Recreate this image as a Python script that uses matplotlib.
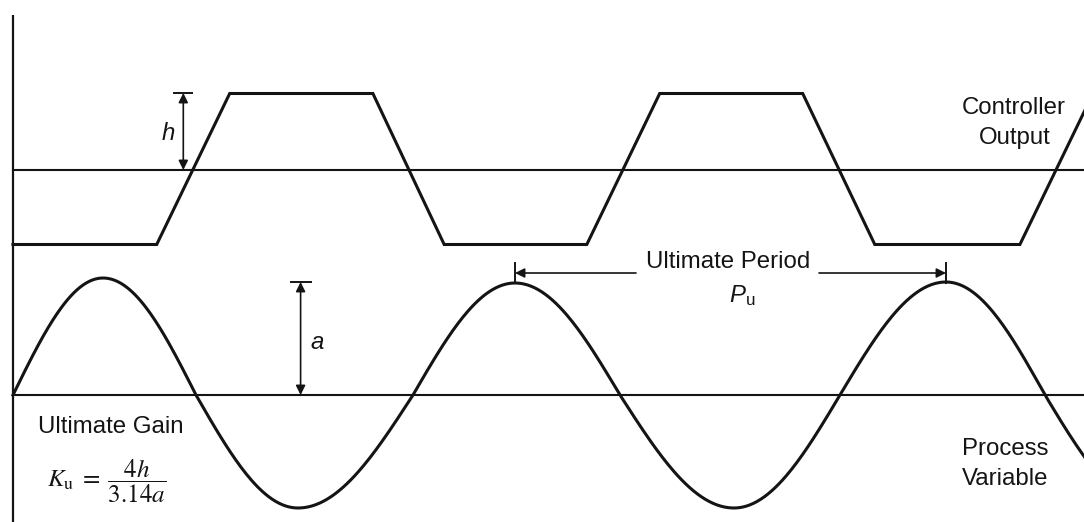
import numpy as np
import matplotlib
matplotlib.use("Agg")
import matplotlib.pyplot as plt

plt.rcParams['mathtext.fontset'] = 'custom'
plt.rcParams['mathtext.rm'] = 'Liberation Sans'
plt.rcParams['mathtext.it'] = 'Liberation Sans:italic'
plt.rcParams['font.family'] = ['Liberation Sans', 'DejaVu Sans']

# ---- data (x: time in px, y: px from top) ----
axis_x = 13
co_baseline = 170
pv_baseline = 395

# Controller output (trapezoid) vertices
co_x = [13, 156.7, 229.7, 372.9, 444.2, 586.8, 659.7, 802.7, 874.8, 1019.9, 1093]
co_y = [244.5, 244.5, 93.5, 93.5, 244.5, 244.5, 93.5, 93.5, 244.5, 244.5, 93.5]

# Process variable key points (zero crossings and extrema)
pv_x = [13, 103, 196, 298, 413, 515, 620, 734, 840, 946, 1045, 1152]
pv_y = [395, 278, 395, 508, 395, 283, 395, 508, 395, 282, 395, 508]

# annotation readings
h_x, h_top = 183.3, 93
a_x, a_top = 300.6, 282
period_start, period_end, period_y = 515, 946, 273

INK = '#141414'
FS = 17.3

fig = plt.figure(figsize=(10.84, 5.22), dpi=100)
ax = fig.add_axes([0, 0, 1, 1])
ax.set_xlim(0, 1084)
ax.set_ylim(522, 0)
ax.axis('off')

# vertical axis and the two reference lines
ax.plot([axis_x, axis_x], [15, 522], color=INK, lw=1.6, solid_capstyle='butt')
ax.plot([axis_x, 1084], [co_baseline, co_baseline], color=INK, lw=1.5)
ax.plot([axis_x, 1084], [pv_baseline, pv_baseline], color=INK, lw=1.5)

# controller output
ax.plot(co_x, co_y, color=INK, lw=2.2, solid_joinstyle='miter')

# process variable: smooth quarter-wave segments through key points
xs, ys = [], []
for i in range(len(pv_x) - 1):
    x0, x1 = pv_x[i], pv_x[i + 1]
    y0, y1 = pv_y[i], pv_y[i + 1]
    s = np.linspace(0, 1, 60)
    if abs(y0 - pv_baseline) < 1e-6:      # from zero crossing to extremum
        seg = y0 + (y1 - y0) * np.sin(np.pi / 2 * s)
    else:                                  # from extremum to zero crossing
        seg = y0 + (y1 - y0) * (1 - np.cos(np.pi / 2 * s))
    xs.extend(x0 + (x1 - x0) * s)
    ys.extend(seg)
ax.plot(xs, ys, color=INK, lw=2.2)

arrow_kw = dict(arrowstyle='<|-|>', color=INK, lw=1.2, mutation_scale=14,
                shrinkA=0, shrinkB=0)
one_kw = dict(arrowstyle='-|>', color=INK, lw=1.2, mutation_scale=14,
              shrinkA=0, shrinkB=0)

# h dimension
ax.annotate('', xy=(h_x, h_top), xytext=(h_x, co_baseline), arrowprops=arrow_kw)
ax.plot([h_x - 9, h_x + 9], [h_top, h_top], color=INK, lw=1.4)
ax.text(168.5, 140, 'h', style='italic', fontsize=FS, ha='center', va='baseline', color=INK)

# a dimension
ax.annotate('', xy=(a_x, a_top), xytext=(a_x, pv_baseline), arrowprops=arrow_kw)
ax.plot([a_x - 10, a_x + 10], [a_top, a_top], color=INK, lw=1.4)
ax.text(317.5, 349, 'a', style='italic', fontsize=FS, ha='center', va='baseline', color=INK)

# ultimate period dimension
ax.annotate('', xy=(period_start, period_y), xytext=(636, period_y), arrowprops=one_kw)
ax.annotate('', xy=(period_end, period_y), xytext=(819, period_y), arrowprops=one_kw)
ax.plot([period_start, period_start], [263, 283], color=INK, lw=1.4)
ax.plot([period_end, period_end], [263, 283], color=INK, lw=1.4)
ax.text(728.5, 268, 'Ultimate Period', fontsize=FS, ha='center', va='baseline', color=INK)
ax.text(729, 302, r'$P_{\mathrm{u}}$', fontsize=FS, ha='left', va='baseline',
        color=INK, math_fontfamily='custom')

# labels
ax.text(1014, 114, 'Controller', fontsize=FS, ha='center', va='baseline', color=INK)
ax.text(1015, 144, 'Output', fontsize=FS, ha='center', va='baseline', color=INK)
ax.text(1005, 455, 'Process', fontsize=FS, ha='center', va='baseline', color=INK)
ax.text(1005, 485, 'Variable', fontsize=FS, ha='center', va='baseline', color=INK)
ax.text(111, 433, 'Ultimate Gain', fontsize=FS, ha='center', va='baseline', color=INK)

# formula
ax.text(107, 481, r'$K_{\mathrm{u}}\;=\;\dfrac{4h}{3.14a}$', fontsize=18,
        ha='center', va='center', color=INK, math_fontfamily='stix')

fig.savefig('out.png', dpi=100, facecolor='white')
